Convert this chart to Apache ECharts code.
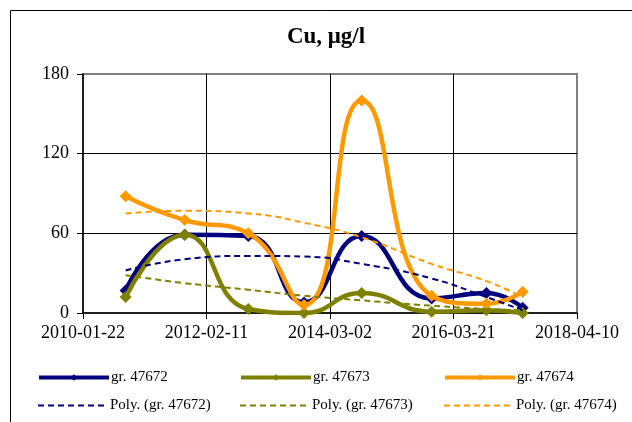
<!DOCTYPE html>
<html>
<head>
<meta charset="utf-8">
<script src="https://cdn.jsdelivr.net/npm/echarts@6/dist/echarts.min.js"></script>
<style>html,body{margin:0;padding:0;background:#fff;overflow:hidden}#c{width:632px;height:422px}</style>
</head>
<body>
<div id="c"></div>
<script>
// ---- data ----
const dates = ["2010-10-08","2011-10-02","2012-10-22","2013-09-25","2014-09-10","2015-11-09","2016-10-07","2017-05-15"];
const gr47672 = [17, 59, 58, 8, 58, 11, 15, 4];
const gr47673 = [12, 59, 3, 0, 15, 1, 2, 0];
const gr47674 = [88, 70, 60, 6, 160, 13, 7, 16];
const poly47672 = [32, 40.5, 43, 42.5, 37, 26, 12, 2];
const poly47673 = [28.5, 22.5, 17.5, 13, 9.5, 5.5, 3, 2];
const poly47674 = [75, 77, 75, 68, 57, 37, 24, 12];
const xTickLabels = ["2010-01-22","2012-02-11","2014-03-02","2016-03-21","2018-04-10"];
const yTicks = [0, 60, 120, 180];
const titleText = "Cu, \u03bcg/l";

// ---- helpers ----
const DAY = 86400000;
const base = Date.parse(xTickLabels[0] + "T00:00:00Z");
function off(d){ return Math.round((Date.parse(d + "T00:00:00Z") - base) / DAY); }
const xs = dates.map(off);
const xMax = off(xTickLabels[xTickLabels.length - 1]);
const xStep = off(xTickLabels[1]);
function pts(vals){ return vals.map((v,i)=>[xs[i], v]); }
function fmt(v){
  const d = new Date(base + v * DAY);
  const p = n => String(n).padStart(2,'0');
  return d.getUTCFullYear() + '-' + p(d.getUTCMonth()+1) + '-' + p(d.getUTCDate());
}

const FONT = "'Liberation Serif', 'Times New Roman', serif";
const colors = ['#000080', '#808000', '#FF9900'];
const names = ['gr. 47672','gr. 47673','gr. 47674'];
const polyNames = names.map(n => 'Poly. (' + n + ')');
const mains = [gr47672, gr47673, gr47674];
const polys = [poly47672, poly47673, poly47674];

const series = [];
mains.forEach((arr, i) => series.push({
  name: names[i], type: 'line', data: pts(arr), smooth: 0.5,
  symbol: 'diamond', symbolSize: 12, showSymbol: true,
  lineStyle: { color: colors[i], width: 4.5 },
  itemStyle: { color: colors[i] },
  emphasis: { disabled: true }, z: 3 + i
}));
polys.forEach((arr, i) => series.push({
  name: polyNames[i], type: 'line', data: pts(arr), smooth: 0.5,
  symbol: 'circle', showSymbol: false,
  lineStyle: { color: colors[i], width: 2, type: [6, 4] },
  itemStyle: { color: colors[i] },
  emphasis: { disabled: true }, z: 10
}));

const legendLefts = [37, 239, 443];
const legends = [];
names.forEach((n, i) => legends.push({
  data: [n], left: legendLefts[i], top: 370, itemWidth: 70, itemHeight: 8, itemGap: 4,
  padding: 0, selectedMode: false,
  lineStyle: { width: 4 },
  textStyle: { fontFamily: FONT, fontSize: 15, color: '#000', padding: [0,0,0,-3] }
}));
polyNames.forEach((n, i) => legends.push({
  data: [n], left: legendLefts[i], top: 398, itemWidth: 70, itemHeight: 8, itemGap: 4,
  padding: 0, selectedMode: false,
  itemStyle: { opacity: 0 },
  lineStyle: { width: 2, type: [6, 4] },
  textStyle: { fontFamily: FONT, fontSize: 15, color: '#000', padding: [0,0,0,-3] }
}));

const chart = echarts.init(document.getElementById('c'), null, { renderer: 'canvas' });
chart.setOption({
  animation: false,
  backgroundColor: '#fff',
  title: {
    text: titleText, left: 326, top: 26, padding: 0, textAlign: 'center',
    textStyle: { fontFamily: FONT, fontSize: 23, fontWeight: 'bold', color: '#000' }
  },
  legend: legends,
  grid: {
    left: 83, top: 74, width: 494, height: 239,
    show: true, borderColor: '#808080', borderWidth: 2, backgroundColor: 'transparent'
  },
  xAxis: {
    type: 'value', min: 0, max: xMax, interval: xStep,
    axisLine: { show: true, onZero: false, lineStyle: { color: '#000', width: 1.5 } },
    axisTick: { show: true, inside: false, length: 6, lineStyle: { color: '#000' } },
    axisLabel: { formatter: fmt, fontFamily: FONT, fontSize: 18, color: '#000', margin: 11 },
    splitLine: { show: true, showMinLine: false, showMaxLine: false, lineStyle: { color: '#000', width: 1 } }
  },
  yAxis: {
    type: 'value', min: yTicks[0], max: yTicks[yTicks.length-1], interval: yTicks[1] - yTicks[0],
    axisLine: { show: true, lineStyle: { color: '#000', width: 1.5 } },
    axisTick: { show: true, inside: false, length: 6, lineStyle: { color: '#000' } },
    axisLabel: { fontFamily: FONT, fontSize: 18, color: '#000', margin: 14 },
    splitLine: { show: true, showMinLine: false, showMaxLine: false, lineStyle: { color: '#000', width: 1 } }
  },
  graphic: [{
    type: 'rect', shape: { x: 10.5, y: 10.5, width: 640, height: 430 },
    style: { fill: 'none', stroke: '#000', lineWidth: 1 }, silent: true, z: 100
  }],
  series: series
});
</script>
</body>
</html>
